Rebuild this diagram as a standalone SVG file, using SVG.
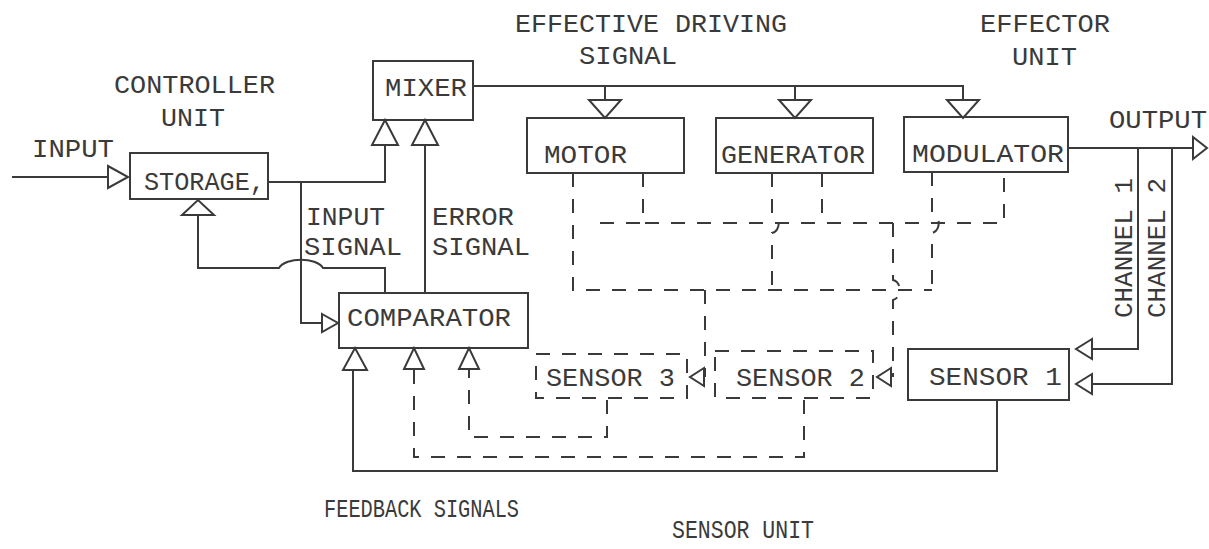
<svg xmlns="http://www.w3.org/2000/svg" width="1209" height="549" viewBox="0 0 1209 549">
<style>
  text { font-family: "Liberation Mono", "DejaVu Sans Mono", monospace; font-size: 26px; fill: #3a3a3a; }
  .box { fill: none; stroke: #3a3a3a; stroke-width: 2; }
  .dbox { fill: none; stroke: #3a3a3a; stroke-width: 2; stroke-dasharray: 14 12; }
  .ln { fill: none; stroke: #3a3a3a; stroke-width: 2; }
  .dl { fill: none; stroke: #3a3a3a; stroke-width: 2; stroke-dasharray: 14 12; }
  .tri { fill: #ffffff; stroke: #3a3a3a; stroke-width: 2; stroke-linejoin: miter; }
</style>
<rect width="1209" height="549" fill="#ffffff"/>

<g id="connectors">
  <!-- input -->
  <path class="ln" d="M12,177 H108"/>
  <polygon class="tri" points="108,166 128,177 108,188"/>
  <!-- storage to mixer, and input signal to comparator -->
  <path class="ln" d="M268,182 H385 V145"/>
  <polygon class="tri" points="372,145 398,145 385,120"/>
  <path class="ln" d="M301,182 V323 H322"/>
  <polygon class="tri" points="322,314 338,323 322,332"/>
  <!-- comparator to storage with hop -->
  <path class="ln" d="M198,215 V268 H279 C286,257 316,257 323,268 H385 V293"/>
  <polygon class="tri" points="182,215 214,215 198,200"/>
  <!-- error signal -->
  <path class="ln" d="M425,293 V145"/>
  <polygon class="tri" points="412,145 438,145 425,120"/>
  <!-- effective driving signal -->
  <path class="ln" d="M473,86 H963 V100"/>
  <path class="ln" d="M605,86 V100"/>
  <path class="ln" d="M795,86 V100"/>
  <polygon class="tri" points="589,100 621,100 605,118"/>
  <polygon class="tri" points="779,100 811,100 795,118"/>
  <polygon class="tri" points="947,100 979,100 963,118"/>
  <!-- output and channels -->
  <path class="ln" d="M1068,148 H1193"/>
  <polygon class="tri" points="1193,137 1207,148 1193,159"/>
  <path class="ln" d="M1138,148 V349 H1092"/>
  <polygon class="tri" points="1092,339 1076,349 1092,359"/>
  <path class="ln" d="M1172,148 V384 H1092"/>
  <polygon class="tri" points="1092,374 1076,384 1092,394"/>
  <!-- sensor 1 feedback -->
  <path class="ln" d="M997,400 V471 H353 V370"/>
  <polygon class="tri" points="343,370 367,370 355,348"/>
  <!-- sensor 2 feedback -->
  <path class="dl" d="M804,400 V457 H414 V370"/>
  <polygon class="tri" points="404,369 424,369 414,348"/>
  <!-- sensor 3 feedback -->
  <path class="dl" d="M607,400 V437 H469 V370"/>
  <polygon class="tri" points="459,369 479,369 469,348"/>
  <!-- dashed sensing network -->
  <path class="dl" d="M573,173 V290 H932"/>
  <path class="dl" d="M643,173 V223 H1004 V172"/>
  <path class="dl" d="M600,223 H643"/>
  <path class="dl" d="M822,173 V223"/>
  <path class="dl" d="M772,173 V213 C781,215 781,231 772,233 V290"/>
  <path class="dl" d="M932,172 V213 C941,215 941,231 932,233 V290"/>
  <path class="dl" d="M893,223 V280 C902,282 902,298 893,300 V377"/>
  <path class="dl" d="M705,290 V377"/>
  <polygon class="tri" points="704,368 690,377 704,386"/>
  <polygon class="tri" points="891,368 877,377 891,386"/>
</g>

<g id="storage">
  <rect class="box" x="130" y="153" width="138" height="46"/>
  <text x="144" y="190" textLength="121" lengthAdjust="spacingAndGlyphs">STORAGE,</text>
</g>
<g id="mixer">
  <rect class="box" x="373" y="61" width="100" height="59"/>
  <text x="385" y="96" textLength="82" lengthAdjust="spacingAndGlyphs">MIXER</text>
</g>
<g id="comparator">
  <rect class="box" x="339" y="293" width="189" height="55"/>
  <text x="347" y="326" textLength="164" lengthAdjust="spacingAndGlyphs">COMPARATOR</text>
</g>
<g id="motor">
  <rect class="box" x="527" y="118" width="157" height="55"/>
  <text x="544" y="163" textLength="83" lengthAdjust="spacingAndGlyphs">MOTOR</text>
</g>
<g id="generator">
  <rect class="box" x="716" y="118" width="157" height="55"/>
  <text x="721" y="163" textLength="144" lengthAdjust="spacingAndGlyphs">GENERATOR</text>
</g>
<g id="modulator">
  <rect class="box" x="904" y="117" width="164" height="55"/>
  <text x="912" y="162" textLength="152" lengthAdjust="spacingAndGlyphs">MODULATOR</text>
</g>
<g id="sensor3">
  <rect class="dbox" x="536" y="354" width="151" height="44"/>
  <text x="546" y="386" textLength="129" lengthAdjust="spacingAndGlyphs">SENSOR 3</text>
</g>
<g id="sensor2">
  <rect class="dbox" x="715" y="351" width="158" height="47"/>
  <text x="736" y="386" textLength="129" lengthAdjust="spacingAndGlyphs">SENSOR 2</text>
</g>
<g id="sensor1">
  <rect class="box" x="908" y="349" width="161" height="51"/>
  <text x="929" y="385" textLength="133" lengthAdjust="spacingAndGlyphs">SENSOR 1</text>
</g>

<g id="labels">
  <text x="114" y="93" textLength="161" lengthAdjust="spacingAndGlyphs">CONTROLLER</text>
  <text x="161" y="126" textLength="64" lengthAdjust="spacingAndGlyphs">UNIT</text>
  <text x="32" y="157" textLength="82" lengthAdjust="spacingAndGlyphs">INPUT</text>
  <text x="306" y="225" textLength="79" lengthAdjust="spacingAndGlyphs">INPUT</text>
  <text x="304" y="255" textLength="98" lengthAdjust="spacingAndGlyphs">SIGNAL</text>
  <text x="432" y="225" textLength="82" lengthAdjust="spacingAndGlyphs">ERROR</text>
  <text x="432" y="255" textLength="98" lengthAdjust="spacingAndGlyphs">SIGNAL</text>
  <text x="515" y="32" textLength="272" lengthAdjust="spacingAndGlyphs">EFFECTIVE DRIVING</text>
  <text x="579" y="64" textLength="98" lengthAdjust="spacingAndGlyphs">SIGNAL</text>
  <text x="980" y="32" textLength="130" lengthAdjust="spacingAndGlyphs">EFFECTOR</text>
  <text x="1012" y="65" textLength="65" lengthAdjust="spacingAndGlyphs">UNIT</text>
  <text x="1109" y="128" textLength="98" lengthAdjust="spacingAndGlyphs">OUTPUT</text>
  <text transform="translate(1132,248) rotate(-90)" text-anchor="middle" textLength="140" lengthAdjust="spacingAndGlyphs">CHANNEL 1</text>
  <text transform="translate(1165,248) rotate(-90)" text-anchor="middle" textLength="140" lengthAdjust="spacingAndGlyphs">CHANNEL 2</text>
  <text x="324" y="517" textLength="195" lengthAdjust="spacingAndGlyphs">FEEDBACK SIGNALS</text>
  <text x="672" y="538" textLength="142" lengthAdjust="spacingAndGlyphs">SENSOR UNIT</text>
</g>
</svg>
